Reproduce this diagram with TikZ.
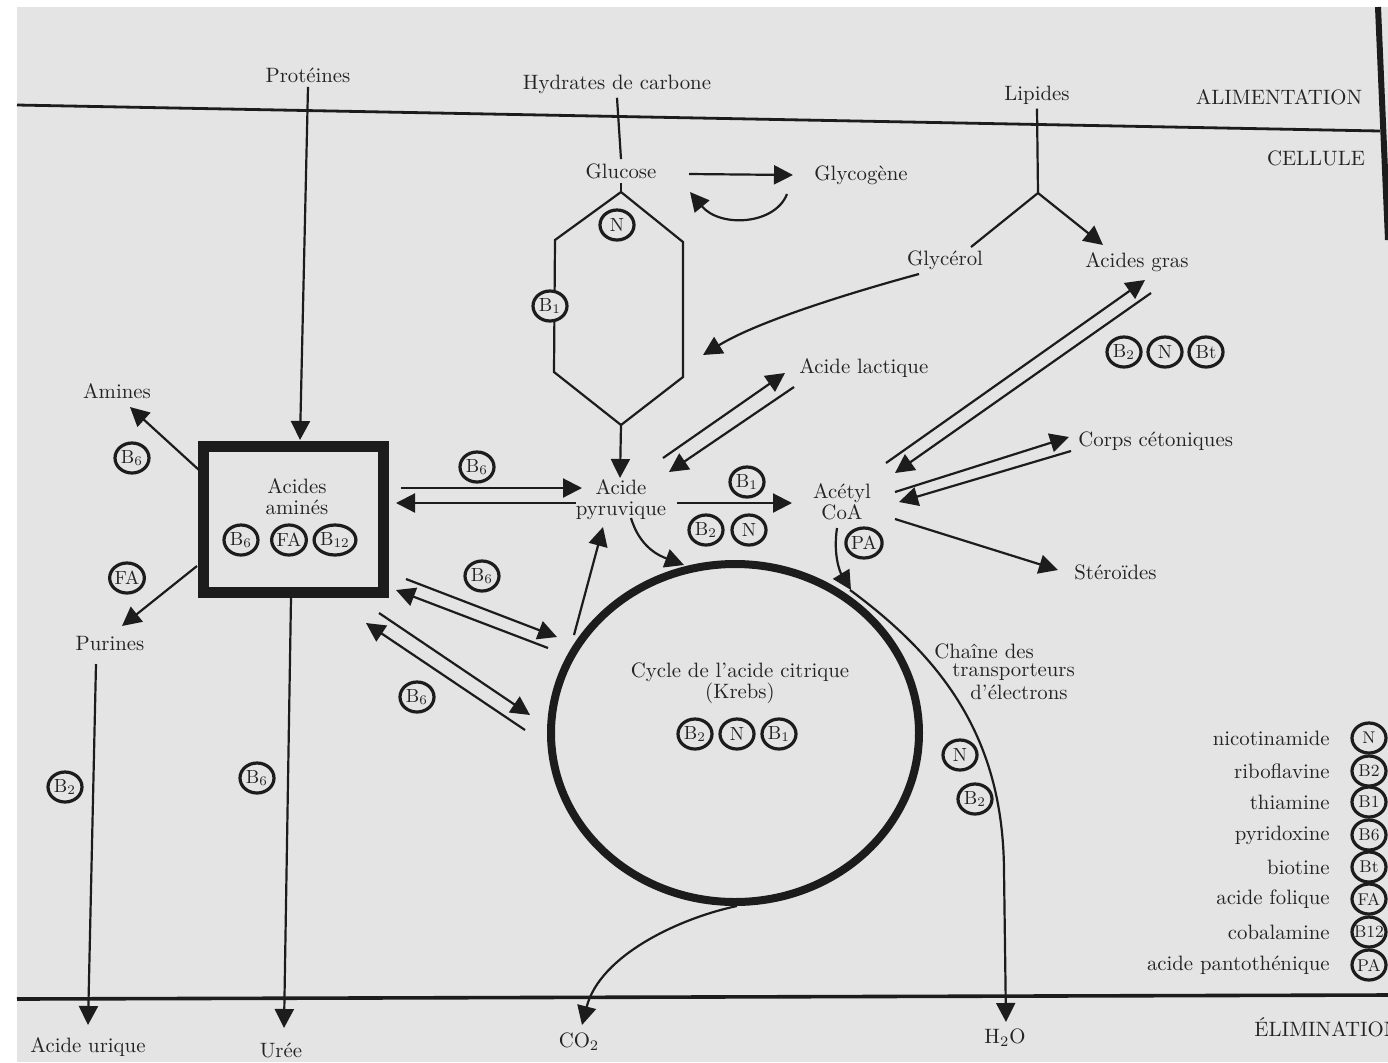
\documentclass[tikz,border=0pt]{standalone}
\usetikzlibrary{arrows.meta,shapes.geometric}
\definecolor{page}{RGB}{228,228,228}
\definecolor{ink}{RGB}{28,28,28}
\definecolor{txt}{RGB}{35,35,35}
\begin{document}
\begin{tikzpicture}[x=0.5pt,y=-0.5pt,
  lbl/.style={text=txt,font=\fontsize{10.4}{10.5}\selectfont,inner sep=2pt,align=center},
  vit/.style={ellipse,draw=ink,line width=1.6pt,minimum width=17pt,minimum height=15pt,
    inner sep=0pt,text=txt,fill=page,font=\fontsize{9.5}{10}\selectfont},
  ln/.style={draw=ink,line width=1.1pt},
  arr/.style={ln,-{Triangle[length=9.5pt,width=9.5pt]}}]
\useasboundingbox (0,0) rectangle (1388,1062);
\fill[white] (0,0) rectangle (1388,1062);
\fill[page] (17,7) rectangle (1388,1062);
\draw[ink,line width=3pt] (1378,7) -- (1388,240);
% border lines
\coordinate (tl1) at (17,105); \coordinate (tl2) at (1380,131);
\draw[ink,line width=1.4pt] (tl1) -- (tl2);
\coordinate (bl1) at (17,999); \coordinate (bl2) at (1388,995);
\draw[ink,line width=1.8pt] (bl1) -- (bl2);
% labels
\node[lbl] (prot) at (308,75) {Protéines};
\node[lbl] (hyd) at (617,84) {Hydrates de carbone};
\node[lbl] (lip) at (1037,95) {Lipides};
\node[lbl] (alim) at (1279,97) {ALIMENTATION};
\node[lbl] (cell) at (1316,158) {CELLULE};
\node[lbl] (glu) at (621,171) {Glucose};
\node[lbl,anchor=west] (glyco) at (810,175) {Glycogène};
\node[lbl] (glycerol) at (945,260) {Glycérol};
\node[lbl] (agras) at (1137,262) {Acides gras};
\node[lbl,anchor=west] (lact) at (795,368) {Acide lactique};
\node[lbl] (amines) at (117,391) {Amines};
\node[lbl] (pyr) at (621,500) {Acide\\pyruvique};
\node[lbl] (acoa) at (842,502) {Acétyl\\CoA};
\node[lbl,anchor=west] (corps) at (1074,441) {Corps cétoniques};
\node[lbl,anchor=west] (ster) at (1070,572) {Stéroïdes};
\node[lbl] (pur) at (110,643) {Purines};
\node[lbl,anchor=west] (ch1) at (930,651) {Chaîne des};
\node[lbl,anchor=west] (ch2) at (948,672) {transporteurs};
\node[lbl,anchor=west] (ch3) at (966,692) {d’électrons};
\node[lbl] (uric) at (88,1047) {Acide urique};
\node[lbl] (uree) at (281,1050) {Urée};
\node[lbl] (co2) at (579,1042) {CO\textsubscript{2}};
\node[lbl] (h2o) at (1005,1038) {H\textsubscript{2}O};
\node[lbl,anchor=west] (elim) at (1250,1027) {ÉLIMINATION};
% acides amines box
\node[draw=ink,line width=5.5pt,minimum width=90pt,minimum height=73pt,inner sep=0pt] (box) at (293,519) {};
\node[lbl] (aa) at (297,497) {Acides\\aminés};
% Krebs cycle
\node[ellipse,draw=ink,line width=4pt,minimum width=184pt,minimum height=169pt,inner sep=0pt] (kc) at (735,733) {};
\node[lbl] (krebs) at (740,683) {Cycle de l’acide citrique\\(Krebs)};
% glucose hexagon
\coordinate (hT) at (621,192); \coordinate (hLT) at (555,240); \coordinate (hLB) at (554,372);
\coordinate (hB) at (621,425); \coordinate (hRB) at (683,377); \coordinate (hRT) at (683,242);
\draw[ln] (hT) -- (hLT) -- (hLB) -- (hB) -- (hRB) -- (hRT) -- cycle;
\draw[ln] (hyd.south) -- (glu.north);
\draw[ln] (glu.south) -- (hT);
\coordinate (pyrTop) at (620,478);
\draw[arr] (hB) -- (pyrTop);
% glycogen
\coordinate (gs) at (689,174); \coordinate (ge) at (793,175);
\draw[arr] (gs) -- (ge);
\coordinate (gr1) at (787,194); \coordinate (gr2) at (690,192);
\draw[arr] (gr1) .. controls (775,225) and (720,228) .. (gr2);
% lipids
\coordinate (fork) at (1038,193); \coordinate (glyE) at (971,247); \coordinate (agT) at (1103,245);
\draw[ln] (lip.south) -- (fork) -- (glyE);
\draw[arr] (fork) -- (agT);
\coordinate (gc1) at (919,274); \coordinate (gc2) at (703,355);
\draw[arr] (gc1) .. controls (860,290) and (760,320) .. (gc2);
% proteins
\coordinate (boxTop) at (300,440);
\draw[arr] (prot.south) -- (boxTop);
\coordinate (boxBot) at (291,598); \coordinate (ureeT) at (284,1028);
\draw[arr] (boxBot) -- (ureeT);
% amines, purines
\coordinate (am1) at (199,470); \coordinate (am2) at (130,407);
\draw[arr] (am1) -- (am2);
\coordinate (pu1) at (197,566); \coordinate (pu2) at (122,626);
\draw[arr] (pu1) -- (pu2);
\coordinate (purB) at (96,664); \coordinate (uricT) at (88,1025);
\draw[arr] (purB) -- (uricT);
% box <-> pyruvique
\coordinate (bp1) at (401,488); \coordinate (bp2) at (582,488);
\coordinate (bp3) at (576,503); \coordinate (bp4) at (396,503);
\draw[arr] (bp1) -- (bp2); \draw[arr] (bp3) -- (bp4);
% box <-> krebs
\coordinate (bk1) at (406,579); \coordinate (bk2) at (557,637);
\coordinate (bk3) at (548,648); \coordinate (bk4) at (396,590);
\draw[arr] (bk1) -- (bk2); \draw[arr] (bk3) -- (bk4);
\coordinate (bk5) at (379,613); \coordinate (bk6) at (530,715);
\coordinate (bk7) at (525,730); \coordinate (bk8) at (366,623);
\draw[arr] (bk5) -- (bk6); \draw[arr] (bk7) -- (bk8);
% lactique
\coordinate (la1) at (663,458); \coordinate (la2) at (785,373);
\coordinate (la3) at (794,387); \coordinate (la4) at (669,472);
\draw[arr] (la1) -- (la2); \draw[arr] (la3) -- (la4);
% acides gras
\coordinate (ag1) at (886,463); \coordinate (ag2) at (1145,280);
\coordinate (ag3) at (1151,293); \coordinate (ag4) at (895,473);
\draw[arr] (ag1) -- (ag2); \draw[arr] (ag3) -- (ag4);
% corps cetoniques
\coordinate (cc1) at (895,492); \coordinate (cc2) at (1069,437);
\coordinate (cc3) at (1071,451); \coordinate (cc4) at (899,502);
\draw[arr] (cc1) -- (cc2); \draw[arr] (cc3) -- (cc4);
% steroides
\coordinate (st1) at (895,519); \coordinate (st2) at (1058,570);
\draw[arr] (st1) -- (st2);
% pyruvique -> acetyl
\coordinate (pa1) at (677,503); \coordinate (pa2) at (792,503);
\draw[arr] (pa1) -- (pa2);
% pyruvique -> krebs
\coordinate (pk1) at (631,518); \coordinate (pk2) at (684,565);
\draw[arr] (pk1) .. controls (640,548) and (660,556) .. (pk2);
\coordinate (kp1) at (574,635); \coordinate (kp2) at (603,527);
\draw[arr] (kp1) -- (kp2);
% acetyl -> krebs
\coordinate (ak1) at (837,528); \coordinate (ak2) at (851,590);
\draw[arr] (ak1) .. controls (833,555) and (840,572) .. (ak2);
% CO2
\coordinate (kb) at (737,906); \coordinate (co2T) at (582,1025);
\draw[arr] (kb) .. controls (680,918) and (600,955) .. (co2T);
% electron chain
\coordinate (ec1) at (850,590); \coordinate (ec2) at (1004,870); \coordinate (ecT) at (1006,1022);
\draw[arr] (ec1) .. controls (945,660) and (1003,740) .. (ec2) -- (ecT);
% vitamin badges
\node[vit] (hN) at (617,225) {N};
\node[vit] (hB1) at (550,306) {B\textsubscript{1}};
\node[vit] (lB2) at (1124,352) {B\textsubscript{2}};
\node[vit] (lN) at (1165,352) {N};
\node[vit] (lBt) at (1206,352) {Bt};
\node[vit] (amB6) at (132,458) {B\textsubscript{6}};
\node[vit] (puFA) at (127,578) {FA};
\node[vit] (bxB6) at (241,540) {B\textsubscript{6}};
\node[vit] (bxFA) at (289,540) {FA};
\node[vit] (bxB12) at (335,540) {B\textsubscript{12}};
\node[vit] (pyB6) at (477,467) {B\textsubscript{6}};
\node[vit] (upB6) at (482,576) {B\textsubscript{6}};
\node[vit] (loB6) at (417,697) {B\textsubscript{6}};
\node[vit] (acB1) at (747,482) {B\textsubscript{1}};
\node[vit] (acB2) at (706,530) {B\textsubscript{2}};
\node[vit] (acN) at (749,530) {N};
\node[vit] (aPA) at (864,543) {PA};
\node[vit] (kB2) at (695,734) {B\textsubscript{2}};
\node[vit] (kN) at (737,734) {N};
\node[vit] (kB1) at (779,734) {B\textsubscript{1}};
\node[vit] (cN) at (960,755) {N};
\node[vit] (cB2) at (975,799) {B\textsubscript{2}};
\node[vit] (uB2) at (65,787) {B\textsubscript{2}};
\node[vit] (urB6) at (257,778) {B\textsubscript{6}};
% legend
\foreach \t/\v/\y [count=\i] in {nicotinamide/N/738, riboflavine/B2/771, thiamine/B1/802,
  pyridoxine/B6/835, biotine/Bt/867, acide folique/FA/899, cobalamine/B12/932,
  acide pantothénique/PA/965}{
  \node[lbl,anchor=east] (leg\i) at (1334,\y) {\t};
  \node[vit,font=\fontsize{8.5}{9}\selectfont] (legv\i) at (1369,\y) {\makebox[0pt]{\v}};
}
\end{tikzpicture}
\end{document}
